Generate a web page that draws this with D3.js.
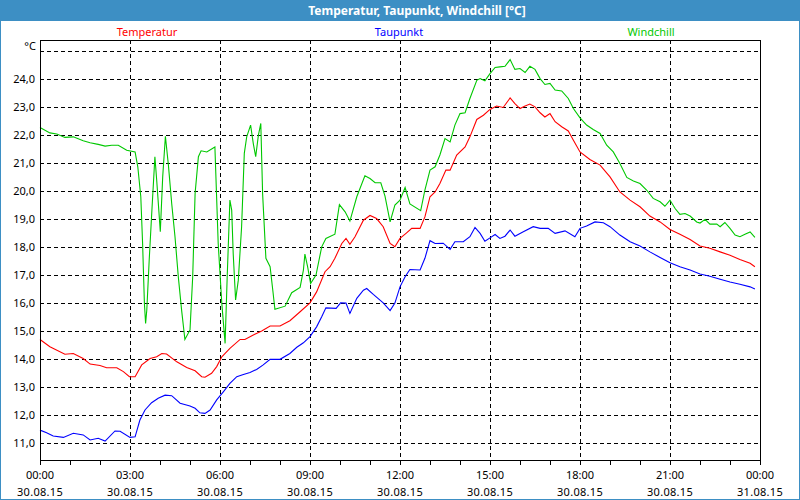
<!DOCTYPE html>
<html><head><meta charset="utf-8">
<script src="https://cdn.jsdelivr.net/npm/d3@7"></script>
<style>
html,body{margin:0;padding:0;background:#fff;}
svg{display:block;font-family:"Noto Sans",sans-serif;}
</style></head>
<body>
<svg id="chart" width="800" height="500"></svg>
<script>
const title = "Temperatur, Taupunkt, Windchill [°C]";
const seriesNames = ["Temperatur", "Taupunkt", "Windchill"];
const seriesColors = ["#ff0000", "#0000ff", "#00c800"];
const yTicks = [11,12,13,14,15,16,17,18,19,20,21,22,23,24];
const yGrid = [11,12,13,14,15,16,17,18,19,20,21,22,23,24,25];
const xTickHours = [0,3,6,9,12,15,18,21,24];
const xTickLabels = [["00:00","30.08.15"],["03:00","30.08.15"],["06:00","30.08.15"],["09:00","30.08.15"],["12:00","30.08.15"],["15:00","30.08.15"],["18:00","30.08.15"],["21:00","30.08.15"],["00:00","31.08.15"]];

// [hour of day, value]
const temperatur = [[0,14.70],[0.33,14.44],[0.83,14.17],[1.11,14.20],[1.44,14.02],[1.67,13.82],[2.0,13.77],[2.22,13.69],[2.56,13.69],[2.78,13.55],[2.98,13.37],[3.17,13.37],[3.39,13.79],[3.67,14.02],[3.89,14.08],[4.06,14.20],[4.22,14.18],[4.56,13.90],[4.89,13.70],[5.17,13.58],[5.39,13.37],[5.5,13.35],[5.72,13.49],[5.89,13.73],[6.06,14.08],[6.33,14.38],[6.67,14.70],[6.83,14.70],[7.11,14.86],[7.39,15.00],[7.67,15.18],[8.0,15.18],[8.33,15.37],[8.67,15.69],[9.0,16.01],[9.22,16.40],[9.5,17.12],[9.67,17.30],[9.83,17.60],[10.06,18.13],[10.2,18.31],[10.33,18.10],[10.5,18.37],[10.78,18.96],[11.0,19.13],[11.22,19.02],[11.44,18.73],[11.67,18.13],[11.83,18.01],[12.0,18.31],[12.22,18.51],[12.39,18.67],[12.67,18.67],[12.83,19.08],[13.0,19.80],[13.17,19.97],[13.33,20.27],[13.53,20.75],[13.67,20.75],[13.89,21.29],[14.17,21.58],[14.33,21.94],[14.56,22.56],[14.78,22.71],[15.0,22.92],[15.22,23.04],[15.44,22.99],[15.67,23.33],[15.83,23.13],[16.0,22.95],[16.17,23.04],[16.33,23.11],[16.5,23.01],[16.67,22.80],[16.83,22.65],[17.0,22.77],[17.17,22.48],[17.39,22.30],[17.61,22.15],[17.78,21.82],[18.0,21.40],[18.33,21.13],[18.67,20.93],[19.0,20.51],[19.33,19.97],[19.67,19.68],[20.0,19.44],[20.33,19.11],[20.67,18.90],[21.0,18.63],[21.33,18.46],[21.67,18.27],[22.0,18.04],[22.33,17.96],[22.67,17.83],[23.0,17.71],[23.33,17.56],[23.67,17.42],[23.83,17.30]];

const taupunkt = [[0,11.46],[0.22,11.37],[0.44,11.25],[0.78,11.20],[1.11,11.35],[1.44,11.29],[1.67,11.11],[1.94,11.17],[2.17,11.07],[2.5,11.43],[2.67,11.42],[3.0,11.20],[3.17,11.22],[3.33,11.82],[3.5,12.18],[3.72,12.44],[3.94,12.60],[4.17,12.71],[4.39,12.69],[4.67,12.42],[5.0,12.32],[5.17,12.24],[5.33,12.08],[5.5,12.06],[5.67,12.18],[5.89,12.54],[6.11,12.83],[6.33,13.13],[6.56,13.37],[6.78,13.45],[7.0,13.52],[7.22,13.63],[7.44,13.79],[7.67,13.99],[8.0,13.99],[8.33,14.20],[8.56,14.42],[8.78,14.58],[9.0,14.80],[9.22,15.15],[9.39,15.51],[9.53,15.83],[9.87,15.81],[10.02,16.01],[10.2,16.0],[10.33,15.63],[10.56,16.17],[10.78,16.46],[10.89,16.52],[11.11,16.31],[11.44,16.01],[11.67,15.73],[11.83,16.0],[12.0,16.58],[12.17,16.94],[12.33,17.20],[12.67,17.18],[12.83,17.60],[13.0,18.23],[13.17,18.13],[13.44,18.14],[13.67,17.92],[13.83,18.19],[14.11,18.19],[14.33,18.37],[14.5,18.70],[14.67,18.49],[14.83,18.21],[15.0,18.33],[15.17,18.45],[15.33,18.31],[15.5,18.39],[15.67,18.61],[15.83,18.39],[16.11,18.55],[16.44,18.73],[16.67,18.67],[16.94,18.67],[17.17,18.49],[17.5,18.58],[17.83,18.37],[18.0,18.67],[18.22,18.75],[18.5,18.90],[18.78,18.87],[19.0,18.73],[19.33,18.43],[19.67,18.19],[20.0,18.04],[20.33,17.83],[20.67,17.63],[21.0,17.44],[21.33,17.30],[21.67,17.18],[22.0,17.04],[22.33,16.96],[22.67,16.85],[23.0,16.75],[23.33,16.67],[23.67,16.58],[23.83,16.50]];

const windchill = [[0,22.27],[0.33,22.08],[0.56,22.04],[0.83,21.92],[1.11,21.94],[1.44,21.80],[1.67,21.73],[1.94,21.67],[2.17,21.61],[2.39,21.64],[2.61,21.64],[2.89,21.46],[3.17,21.40],[3.26,20.87],[3.36,19.80],[3.42,18.13],[3.48,15.99],[3.52,15.27],[3.56,15.75],[3.64,17.54],[3.73,19.32],[3.83,21.23],[3.89,20.39],[3.96,19.32],[4.01,18.55],[4.09,20.51],[4.18,21.96],[4.28,20.93],[4.39,19.56],[4.5,18.37],[4.61,16.94],[4.72,15.75],[4.83,14.70],[5.0,15.04],[5.09,16.94],[5.17,19.92],[5.28,21.23],[5.37,21.44],[5.56,21.40],[5.83,21.58],[5.94,18.13],[6.06,15.99],[6.17,14.56],[6.24,16.94],[6.33,19.68],[6.39,19.32],[6.44,17.77],[6.52,16.11],[6.61,16.82],[6.72,18.73],[6.81,21.35],[6.89,21.94],[7.02,22.36],[7.11,21.70],[7.19,21.23],[7.28,22.0],[7.36,22.42],[7.42,19.92],[7.53,17.60],[7.67,17.30],[7.76,16.46],[7.83,15.78],[8.17,15.89],[8.39,16.37],[8.67,16.56],[8.78,17.18],[8.83,17.75],[8.92,17.30],[9.02,16.70],[9.2,17.0],[9.39,18.01],[9.53,18.31],[9.83,18.46],[9.98,19.52],[10.17,19.26],[10.33,18.93],[10.56,19.80],[10.83,20.55],[11.0,20.45],[11.17,20.30],[11.36,20.30],[11.5,19.82],[11.67,18.90],[11.83,19.50],[12.0,19.68],[12.17,20.13],[12.33,19.54],[12.69,19.30],[12.83,20.04],[13.0,20.75],[13.17,20.87],[13.33,21.29],[13.5,21.88],[13.67,21.76],[13.83,22.36],[14.0,22.77],[14.17,22.80],[14.33,23.31],[14.56,23.96],[14.67,24.02],[14.83,23.94],[15.0,24.20],[15.17,24.42],[15.33,24.44],[15.5,24.46],[15.67,24.70],[15.83,24.35],[16.0,24.38],[16.17,24.24],[16.33,24.46],[16.5,24.35],[16.67,24.02],[16.83,23.81],[17.0,23.85],[17.17,23.61],[17.39,23.58],[17.61,23.31],[17.78,22.95],[18.0,22.62],[18.22,22.36],[18.44,22.20],[18.67,22.06],[18.89,21.64],[19.11,21.40],[19.33,20.99],[19.56,20.49],[19.78,20.36],[20.0,20.27],[20.22,20.04],[20.44,19.74],[20.67,19.62],[20.83,19.46],[21.0,19.68],[21.17,19.38],[21.33,19.17],[21.5,19.20],[21.67,19.11],[21.89,18.90],[22.0,18.86],[22.17,18.99],[22.33,18.82],[22.56,18.82],[22.67,18.73],[22.83,18.88],[23.0,18.67],[23.17,18.43],[23.33,18.37],[23.5,18.46],[23.67,18.54],[23.83,18.35]];

const allSeries = [temperatur, taupunkt, windchill];

const W = 800, H = 500;
const M = {left: 40, right: 760, top: 40, bottom: 460};
const svg = d3.select("#chart");

const base = new Date(2015, 7, 30, 0, 0, 0);
const toDate = h => new Date(base.getTime() + h * 3600000);

const x = d3.scaleTime().domain([toDate(0), toDate(24)]).range([M.left, M.right]);
const y = d3.scaleLinear().domain([10.393, 25.4]).range([M.bottom, M.top]);

// background
svg.append("rect").attr("x",0).attr("y",0).attr("width",W).attr("height",H).attr("fill","#ffffff");
// title bar
svg.append("rect").attr("x",0).attr("y",0).attr("width",W).attr("height",21).attr("fill","#3d8fc4");
svg.append("text").attr("x",417).attr("y",15).attr("text-anchor","middle")
  .attr("fill","#ffffff").attr("font-weight","bold").attr("font-size","12px").text(title);
// outer frame
svg.append("rect").attr("x",0.5).attr("y",0.5).attr("width",W-1).attr("height",H-1)
  .attr("fill","none").attr("stroke","#3d8fc4").attr("stroke-width",1);

// legend
const legendX = [147, 399, 651];
seriesNames.forEach((n,i)=>{
  svg.append("text").attr("x",legendX[i]).attr("y",36).attr("text-anchor","middle")
    .attr("fill",seriesColors[i]).attr("font-size","11px").text(n);
});

// grid
const g = svg.append("g").attr("shape-rendering","crispEdges");
g.selectAll("line.hg").data(yGrid).enter().append("line")
  .attr("x1",M.left).attr("x2",M.right)
  .attr("y1",d=>Math.round(y(d))+0.5).attr("y2",d=>Math.round(y(d))+0.5)
  .attr("stroke","#000").attr("stroke-dasharray","4,3");
g.selectAll("line.vg").data(xTickHours.slice(1,-1)).enter().append("line")
  .attr("x1",d=>Math.round(x(toDate(d)))+0.5).attr("x2",d=>Math.round(x(toDate(d)))+0.5)
  .attr("y1",M.top).attr("y2",M.bottom)
  .attr("stroke","#000").attr("stroke-dasharray","4,3");

// series lines
const line = d3.line().x(d=>x(toDate(d[0]))).y(d=>y(d[1]));
allSeries.forEach((s,i)=>{
  svg.append("path").datum(s).attr("d",line).attr("fill","none")
    .attr("stroke",seriesColors[i]).attr("stroke-width",1.1);
});

// frame
svg.append("rect").attr("x",M.left+0.5).attr("y",M.top+0.5)
  .attr("width",M.right-M.left).attr("height",M.bottom-M.top)
  .attr("fill","none").attr("stroke","#000").attr("shape-rendering","crispEdges");

// x axis
const xAxis = d3.axisBottom(x).ticks(d3.timeHour.every(1)).tickSize(4).tickFormat("");
const xa = svg.append("g").attr("transform",`translate(0,${M.bottom+0.5})`).call(xAxis);
xa.select(".domain").remove();
xa.selectAll("line").attr("stroke","#000").attr("shape-rendering","crispEdges");
const xl = svg.append("g").attr("font-size","11px").attr("fill","#000");
xTickHours.forEach((h,i)=>{
  const t = xl.append("text").attr("x",x(toDate(h))).attr("text-anchor","middle");
  t.append("tspan").attr("x",x(toDate(h))).attr("y",479).text(xTickLabels[i][0]);
  t.append("tspan").attr("x",x(toDate(h))).attr("y",496).attr("letter-spacing","0.3px").text(xTickLabels[i][1]);
});

// y axis labels
const yAxis = d3.axisLeft(y).tickValues(yTicks).tickSize(0).tickPadding(5)
  .tickFormat(d=>d3.format(".1f")(d).replace(".",","));
const ya = svg.append("g").attr("transform",`translate(${M.left},0)`).call(yAxis);
ya.select(".domain").remove();
ya.selectAll("text").attr("font-size","11px").attr("font-family","Noto Sans, sans-serif").attr("fill","#000");
svg.append("text").attr("x",36).attr("y",50).attr("text-anchor","end").attr("font-size","11px").text("°C");
</script>
</body></html>
